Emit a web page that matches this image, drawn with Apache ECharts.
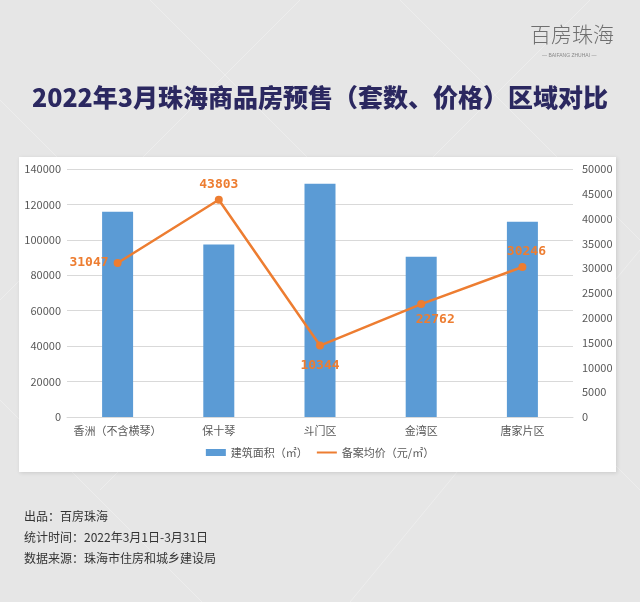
<!DOCTYPE html>
<html><head><meta charset="utf-8">
<script src="https://cdn.jsdelivr.net/npm/echarts@6/dist/echarts.min.js"></script>
<style>html,body{margin:0;padding:0;background:#e6e6e6;}#c{width:640px;height:602px;}</style>
</head><body><div id="c"></div>
<script>
var categories = ['香洲（不含横琴）', '保十琴', '斗门区', '金湾区', '唐家片区'];
var areaValues = [115900, 97400, 131700, 90400, 110200];
var priceValues = [31047, 43803, 14400, 22762, 30246];
var priceLabels = ['31047', '43803', '10344', '22762', '30246'];
var leftTicks = [0, 20000, 140000];
var rightTicks = [0, 5000, 50000];
var seriesNames = ['建筑面积（㎡）', '备案均价（元/㎡）'];
var titleText = '2022年3月珠海商品房预售（套数、价格）区域对比';
var footerLines = ['出品：百房珠海', '统计时间：2022年3月1日-3月31日', '数据来源：珠海市住房和城乡建设局'];

var chart = echarts.init(document.getElementById('c'), null, {renderer: 'canvas'});
var font = '"Microsoft YaHei","Noto Sans CJK SC",sans-serif';
var labelPos = ['left', 'top', 'bottom', 'bottom', 'top'];
var labelOffset = [[0,0],[0,0],[0,5],[14,0],[4,0]];

var bgLines = [];
var diag = [[-100,0,300,400],[150,0,650,500],[400,0,900,500],[-200,200,300,700],[640,-50,100,490],[640,250,350,602],[300,0,-100,400]];
diag.forEach(function(d){
  bgLines.push({type:'line', silent:true, z:-10, shape:{x1:d[0],y1:d[1],x2:d[2],y2:d[3]}, style:{stroke:'rgba(255,255,255,0.3)', lineWidth:1}});
});

chart.setOption({
  backgroundColor: '#e6e6e6',
  animation: false,
  textStyle: {fontFamily: font},
  title: {
    text: titleText, left: 'center', top: 80,
    textStyle: {fontSize: 25, fontWeight: 900, color: '#2b2860', fontFamily: font,
      textShadowColor: '#c8a872', textShadowOffsetX: 1.5, textShadowOffsetY: 1.5, textShadowBlur: 0}
  },
  graphic: bgLines.concat([
    {type:'rect', z:-1, shape:{x:19,y:157,width:597,height:315}, style:{fill:'#ffffff', shadowColor:'rgba(0,0,0,0.12)', shadowBlur:4, shadowOffsetX:1, shadowOffsetY:1}},
    {type:'text', left: 530, top: 24, z: 0, style:{text:'百房珠海', font:'300 21px "Noto Sans CJK SC",sans-serif', fill:'#6f6f6f'}},
    {type:'text', left: 542, top: 53, style:{text:'— BAIFANG ZHUHAI —', font:'5px sans-serif', fill:'#888'}},
    {type:'text', left: 24, top: 510, style:{text: footerLines[0], font:'12px ' + font, fill:'#333'}},
    {type:'text', left: 24, top: 531, style:{text: footerLines[1], font:'12px ' + font, fill:'#333'}},
    {type:'text', left: 24, top: 552, style:{text: footerLines[2], font:'12px ' + font, fill:'#333'}}
  ]),
  grid: {left: 67, right: 67, top: 169, bottom: 185, containLabel: false},
  legend: {
    data: [{name: seriesNames[0], icon: 'rect'},
           {name: seriesNames[1], itemStyle: {color: 'rgba(0,0,0,0)', borderWidth: 0}}],
    bottom: 139, left: 'center', itemWidth: 20, itemHeight: 7, itemGap: 8,
    textStyle: {color: '#595959', fontSize: 11}
  },
  xAxis: {
    type: 'category', data: categories,
    axisLine: {lineStyle: {color: '#d9d9d9'}}, axisTick: {show: false},
    axisLabel: {color: '#595959', fontSize: 11, margin: 8, interval: 0}
  },
  yAxis: [
    {type: 'value', min: leftTicks[0], max: leftTicks[2], interval: leftTicks[1],
      axisLabel: {color: '#595959', fontSize: 11, margin: 6, formatter: function(v){return String(v);}},
      splitLine: {lineStyle: {color: '#d9d9d9'}}, axisLine: {show: false}, axisTick: {show: false}},
    {type: 'value', min: rightTicks[0], max: rightTicks[2], interval: rightTicks[1],
      axisLabel: {color: '#595959', fontSize: 11, margin: 9, formatter: function(v){return String(v);}},
      splitLine: {show: false}, axisLine: {show: false}, axisTick: {show: false}}
  ],
  series: [
    {name: seriesNames[0], type: 'bar', data: areaValues, barWidth: 31,
      itemStyle: {color: '#5b9bd5'}},
    {name: seriesNames[1], type: 'line', yAxisIndex: 1,
      data: priceValues.map(function(v, i){
        return {value: v, label: {position: labelPos[i], offset: labelOffset[i]}};
      }),
      symbol: 'circle', symbolSize: 8,
      lineStyle: {color: '#ed7d31', width: 2.5}, itemStyle: {color: '#ed7d31'},
      label: {show: true, color: '#ed7d31', fontSize: 13, fontWeight: 'bold',
        fontFamily: '"DejaVu Sans Mono",monospace',
        formatter: function(p){ return priceLabels[p.dataIndex]; }}
    }
  ]
});
</script></body></html>
